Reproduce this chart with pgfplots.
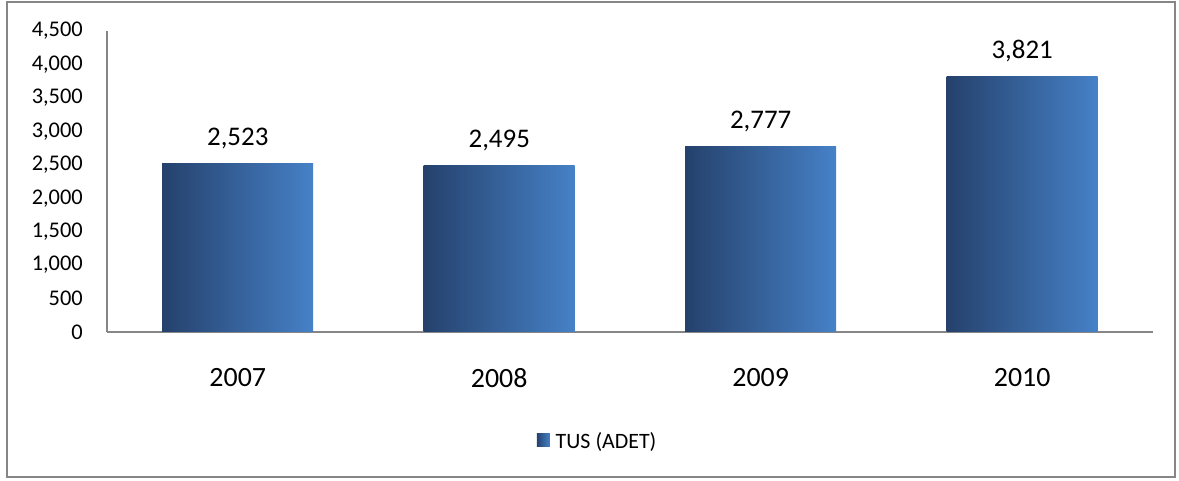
\documentclass[border=0pt]{standalone}
\usepackage{fontspec}
\setmainfont{Carlito}
\usepackage{pgfplots}
\pgfplotsset{compat=1.18}
\definecolor{bardark}{RGB}{37,65,108}
\definecolor{barlight}{RGB}{70,129,199}
\definecolor{framegray}{RGB}{134,134,134}
\begin{document}
\begin{tikzpicture}[x=1bp,y=1bp]
\useasboundingbox (0,0) rectangle (1179,481);
\draw[framegray, line width=1.5bp] (7,4) rectangle (1175,479);
\begin{axis}[
    at={(107bp,149bp)},
    anchor=south west,
    scale only axis,
    width=1046bp, height=301bp,
    xmin=-0.5, xmax=3.5,
    ymin=0, ymax=4500,
    ytick={0,500,...,4500},
    xtick={0,1,2,3},
    xticklabels={2007,2008,2009,2010},
    axis x line*=bottom,
    axis y line*=left,
    axis line style={-, framegray, line width=1.2bp},
    major tick length=0pt,
    no markers,
    /pgf/number format/1000 sep={,},
    /pgf/number format/assume math mode=true,
    yticklabel style={font=\fontsize{22.5}{26}\selectfont, inner sep=0pt, anchor=east, xshift=-24bp},
    xticklabel style={font=\fontsize{28}{32}\selectfont, inner sep=0pt, anchor=center, yshift=-46bp},
    bar width=151bp,
    every axis plot/.append style={ybar, bar shift=0pt, draw=none, left color=bardark, right color=barlight},
    nodes near coords,
    every node near coord/.append style={font=\fontsize{27}{32}\selectfont, anchor=base, inner sep=0pt, yshift=18bp, black},
    legend style={at={(0.469,-0.362)}, anchor=center, draw=none, fill=none,
        font=\fontsize{22}{26}\selectfont,
        /tikz/every odd column/.append style={column sep=4bp}},
    legend image code/.code={\fill[left color=bardark,right color=barlight] (0bp,-6bp) rectangle (13bp,7bp);},
]
\addplot[mark=none] coordinates {(0,2523)};
\addlegendentry{TUS (ADET)}
\addplot[mark=none, forget plot] coordinates {(1,2495)};
\addplot[mark=none, forget plot] coordinates {(2,2777)};
\addplot[mark=none, forget plot] coordinates {(3,3821)};
\end{axis}
\end{tikzpicture}
\end{document}
